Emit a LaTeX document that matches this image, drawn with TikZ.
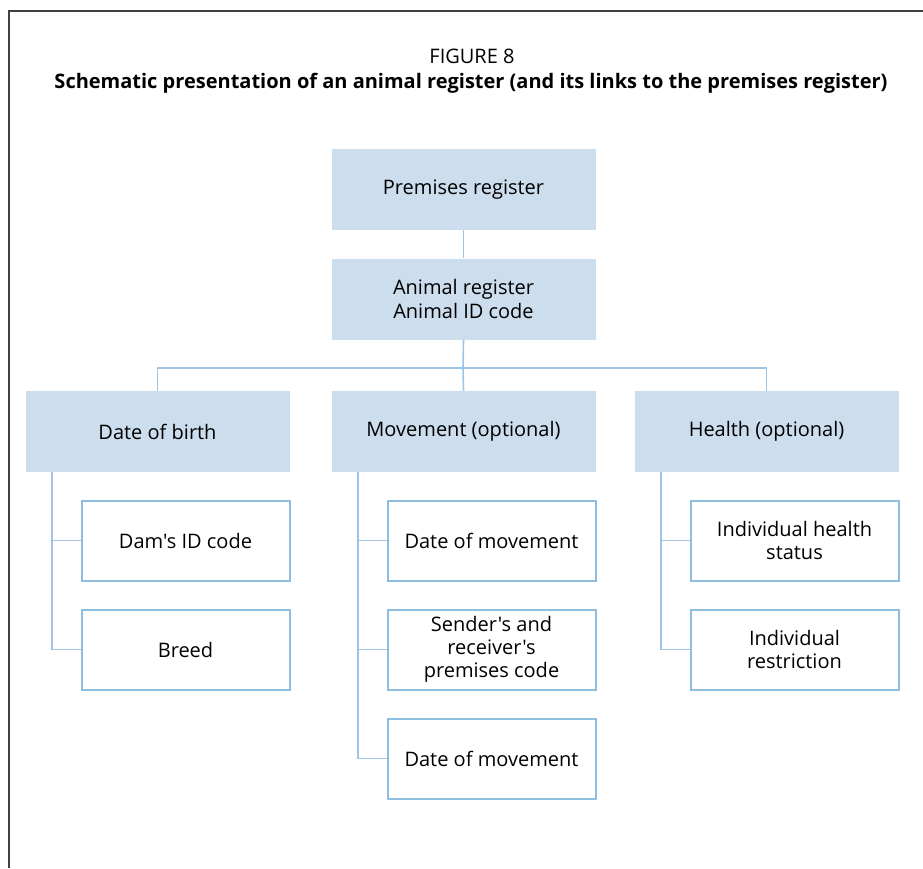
\documentclass[tikz,border=0pt]{standalone}
\usepackage{fontspec}
\setmainfont{Open Sans}[Ligatures=TeXOff]
\definecolor{boxfill}{HTML}{CCDDED}
\definecolor{boxline}{HTML}{8EBDE2}
\definecolor{conn}{HTML}{9DC4E4}
\definecolor{frame}{HTML}{404040}
\tikzset{
  headbox/.style={fill=boxfill, draw=none, minimum width=264*0.75pt, minimum height=81*0.75pt, inner sep=0pt, align=center, font=\fontsize{15}{18}\selectfont},
  leafbox/.style={fill=white, draw=boxline, line width=1.5pt, minimum width=208*0.75pt, minimum height=80*0.75pt, inner sep=0pt, align=center, font=\fontsize{15}{17.3}\selectfont},
  link/.style={draw=conn, line width=1.2pt}
}
\begin{document}
\begin{tikzpicture}[x=0.75pt, y=-0.75pt]
\useasboundingbox (0,0) rectangle (923,868);
\draw[frame, line width=1.2pt] (923,11) -- (9,11) -- (9,868);
\node (fig) at (472,56) {\fontsize{15}{18}\selectfont FIGURE 8};
\node (ttl) at (471,83) {\fontsize{15}{18}\selectfont\bfseries Schematic presentation of an animal register (and its links to the premises register)};
\node[headbox] (prem) at (463.5,189.5) {Premises register};
\node[headbox] (anim) at (463.5,299) {Animal register\\Animal ID code};
\node[headbox] (dob) at (157.5,431.5) {Date of birth};
\node[headbox] (mov) at (463.5,431.5) {Movement (optional)};
\node[headbox] (hlt) at (766.5,431.5) {Health (optional)};
\node[leafbox] (dam) at (185.5,540.5) {Dam's ID code};
\node[leafbox] (brd) at (185.5,649.5) {Breed};
\node[leafbox] (dm1) at (491.5,540.5) {Date of movement};
\node[leafbox] (snd) at (491.5,649.5) {Sender's and\\receiver's\\premises code};
\node[leafbox] (dm2) at (491.5,758.5) {Date of movement};
\node[leafbox] (ihs) at (794.5,540.5) {Individual health\\status};
\node[leafbox] (irs) at (794.5,649.5) {Individual\\restriction};
\coordinate (bus) at (463,368);
\draw[link] (prem.south) -- (anim.north);
\draw[link] (anim.south) -- (bus);
\draw[link] (dob.north) |- (bus) -| (hlt.north);
\draw[link] (bus) -- (mov.north);
\coordinate (dobt) at (52,472);
\coordinate (movt) at (358,472);
\coordinate (hltt) at (661,472);
\draw[link] (dobt) |- (brd.west);
\draw[link] (dobt |- dam.west) -- (dam.west);
\draw[link] (movt) |- (dm2.west);
\draw[link] (movt |- dm1.west) -- (dm1.west);
\draw[link] (movt |- snd.west) -- (snd.west);
\draw[link] (hltt) |- (irs.west);
\draw[link] (hltt |- ihs.west) -- (ihs.west);
\end{tikzpicture}
\end{document}
